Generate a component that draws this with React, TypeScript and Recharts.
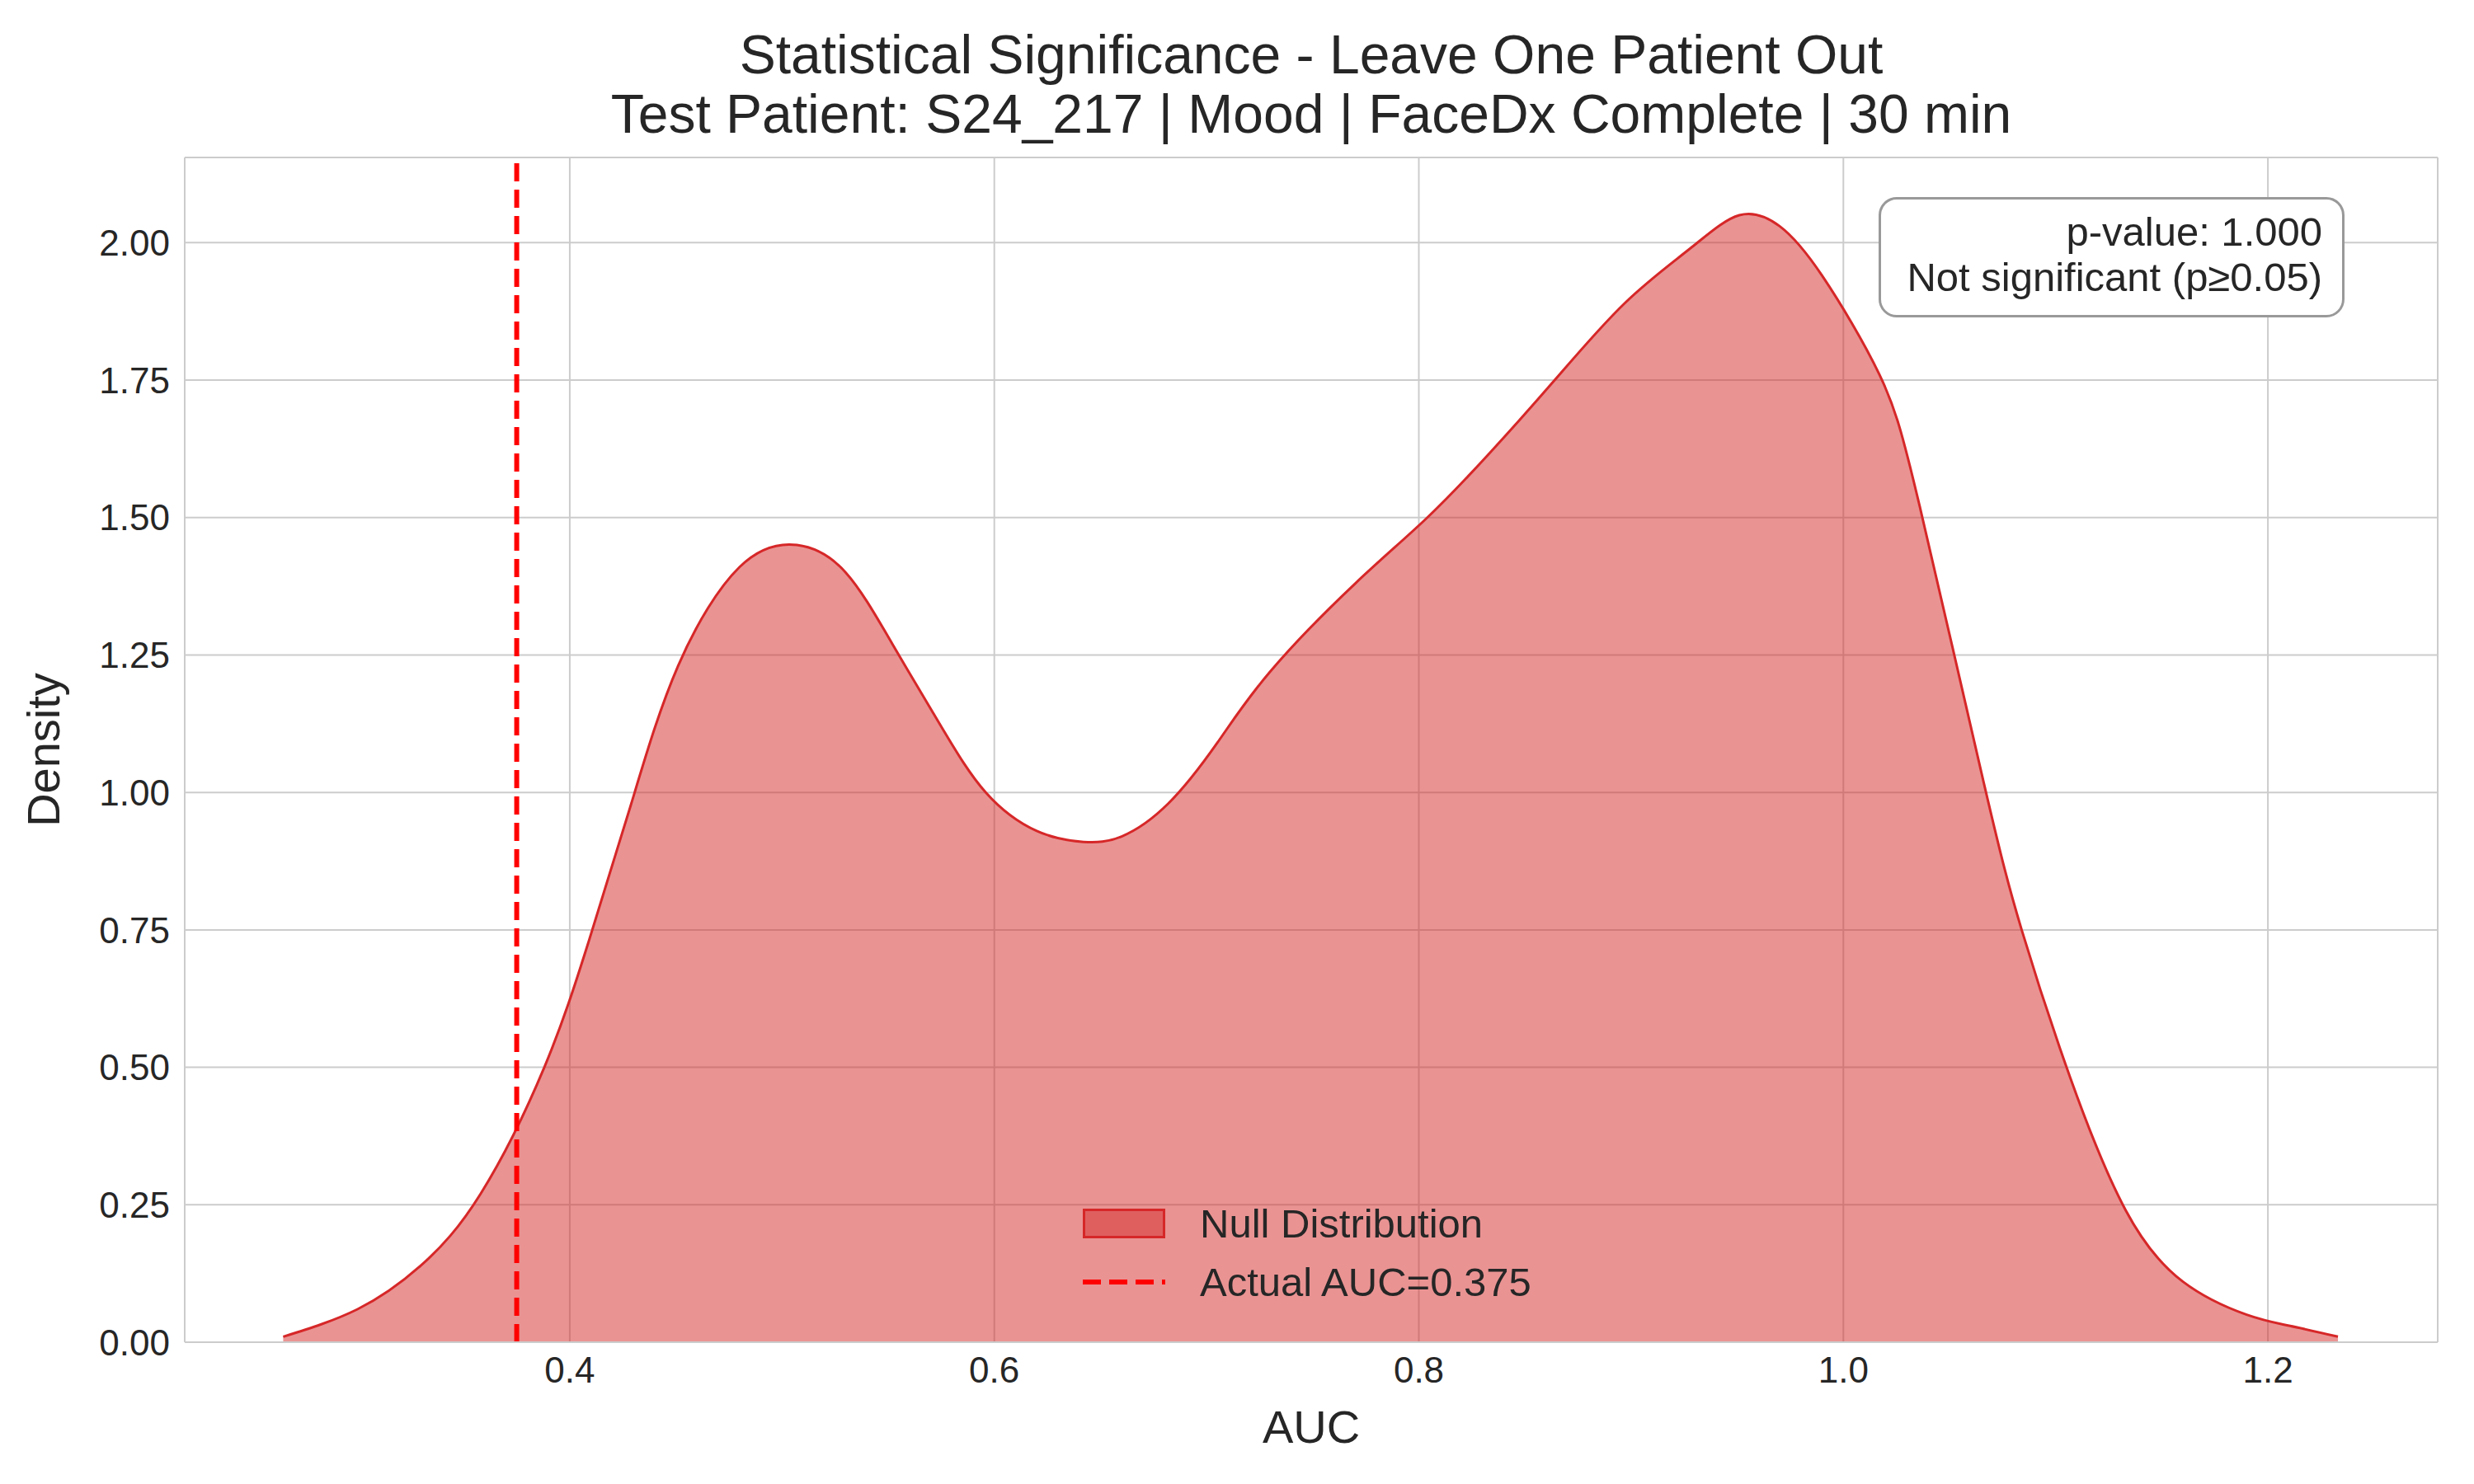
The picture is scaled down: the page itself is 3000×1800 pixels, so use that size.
import { Area, CartesianGrid, ComposedChart, ReferenceLine, XAxis, YAxis } from "recharts";

const aucValues = [0.265, 0.3, 0.33, 0.358, 0.388, 0.409, 0.429, 0.451, 0.48, 0.507, 0.53, 0.552, 0.575, 0.596, 0.62, 0.642, 0.66, 0.682, 0.705, 0.73, 0.77, 0.804, 0.834, 0.864, 0.897, 0.928, 0.951, 0.97, 0.99, 1.017, 1.036, 1.066, 1.084, 1.107, 1.133, 1.16, 1.19, 1.21, 1.233];
const densityValues = [0.01, 0.06, 0.14, 0.27, 0.5, 0.73, 0.98, 1.23, 1.41, 1.45, 1.4, 1.27, 1.12, 1.0, 0.93, 0.91, 0.92, 0.98, 1.09, 1.22, 1.38, 1.5, 1.62, 1.75, 1.89, 1.99, 2.05, 2.03, 1.94, 1.76, 1.52, 1.02, 0.75, 0.48, 0.24, 0.11, 0.05, 0.03, 0.01];
const xTicks = [0.4, 0.6, 0.8, 1.0, 1.2];
const yTicks = [0, 0.25, 0.5, 0.75, 1.0, 1.25, 1.5, 1.75, 2.0];
const actualAuc = 0.375;

const data = aucValues.map((auc, i) => ({ auc, density: densityValues[i] }));

const FONT = "'Liberation Sans', Arial, sans-serif";
const INK = "#262626";

export default function App() {
  return (
    <div style={{ position: "absolute", left: 0, top: 0, width: 3000, height: 1800, background: "#fff", fontFamily: FONT, color: INK }}>
      <div style={{ position: "absolute", left: 224, width: 2732, top: 30, textAlign: "center", fontSize: 66, lineHeight: "72px" }}>
        Statistical Significance - Leave One Patient Out
        <br />
        Test Patient: S24_217 | Mood | FaceDx Complete | 30 min
      </div>
      <ComposedChart width={3000} height={1800} data={data} margin={{ top: 191, right: 44, bottom: 0, left: 0 }}>
        <CartesianGrid stroke="#cccccc" strokeWidth={2} />
        <XAxis
          type="number"
          dataKey="auc"
          domain={[0.2186, 1.28]}
          ticks={xTicks}
          tickFormatter={(v) => v.toFixed(1)}
          height={172}
          tick={{ fontSize: 44, fill: INK, fontFamily: FONT }}
          tickLine={false}
          axisLine={{ stroke: "#cccccc", strokeWidth: 2 }}
          tickMargin={12}
          label={{ value: "AUC", position: "insideBottom", offset: 50, fontSize: 56, fill: INK, fontFamily: FONT }}
        />
        <YAxis
          type="number"
          domain={[0, 2.155]}
          ticks={yTicks}
          tickFormatter={(v) => v.toFixed(2)}
          width={224}
          tick={{ fontSize: 44, fill: INK, fontFamily: FONT }}
          tickLine={false}
          axisLine={{ stroke: "#cccccc", strokeWidth: 2 }}
          tickMargin={12}
          label={{ value: "Density", angle: -90, position: "insideLeft", offset: 52, fontSize: 56, fill: INK, fontFamily: FONT, style: { textAnchor: "middle" } }}
        />
        <Area type="natural" dataKey="density" stroke="#d62728" strokeWidth={3} fill="#d62728" fillOpacity={0.5} isAnimationActive={false} />
        <ReferenceLine x={actualAuc} stroke="#ff0000" strokeWidth={6} strokeDasharray="22 10" />
        <ReferenceLine x={1.28} stroke="#cccccc" strokeWidth={2} />
        <ReferenceLine y={2.155} stroke="#cccccc" strokeWidth={2} />
      </ComposedChart>
      <div style={{ position: "absolute", left: 2278, top: 239, width: 565, height: 146, boxSizing: "border-box", border: "3px solid #999", borderRadius: 22, background: "#fff", textAlign: "right", padding: "12px 24px", fontSize: 49, lineHeight: "55px", whiteSpace: "nowrap" }}>
        p-value: 1.000
        <br />
        Not significant (p≥0.05)
      </div>
      <div style={{ position: "absolute", left: 1313, top: 1466, width: 100, height: 36, background: "#df5f5f", border: "3px solid #d62728", boxSizing: "border-box" }} />
      <div style={{ position: "absolute", left: 1455, top: 1456, fontSize: 49 }}>Null Distribution</div>
      <div style={{ position: "absolute", left: 1313, top: 1552, width: 100, height: 6, background: "repeating-linear-gradient(90deg, #ff0000 0 22px, transparent 22px 32px)" }} />
      <div style={{ position: "absolute", left: 1455, top: 1527, fontSize: 49 }}>Actual AUC=0.375</div>
    </div>
  );
}
